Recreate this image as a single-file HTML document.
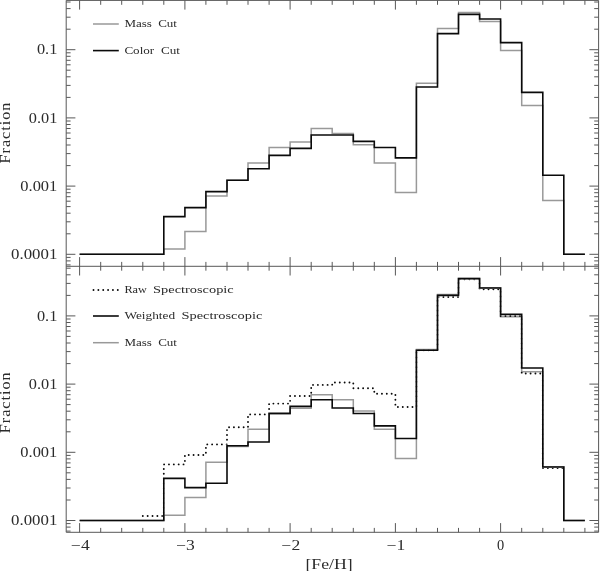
<!DOCTYPE html>
<html lang="en"><head><meta charset="utf-8"><title>Metallicity distribution</title>
<style>html,body{margin:0;padding:0;background:#fff}body{width:600px;height:571px;overflow:hidden}svg{display:block}text{font-family:"Liberation Serif","DejaVu Serif",serif;fill:#2b2b2b}</style></head><body>
<svg width="600" height="571" viewBox="0 0 600 571">
<rect width="600" height="571" fill="#fff"/>
<g fill="none" stroke="#585858" stroke-width="1">
<path d="M66.2 0.4H598.6V532.3H66.2Z M66.2 266.3H598.6"/>
<path d="M79.6 0.4v9.2M79.6 257.1v18.4M79.6 532.3v-9.2M100.7 0.4v4.4M100.7 261.9v8.8M100.7 532.3v-4.4M121.7 0.4v4.4M121.7 261.9v8.8M121.7 532.3v-4.4M142.8 0.4v4.4M142.8 261.9v8.8M142.8 532.3v-4.4M163.8 0.4v4.4M163.8 261.9v8.8M163.8 532.3v-4.4M184.9 0.4v9.2M184.9 257.1v18.4M184.9 532.3v-9.2M205.9 0.4v4.4M205.9 261.9v8.8M205.9 532.3v-4.4M227.0 0.4v4.4M227.0 261.9v8.8M227.0 532.3v-4.4M248.0 0.4v4.4M248.0 261.9v8.8M248.0 532.3v-4.4M269.1 0.4v4.4M269.1 261.9v8.8M269.1 532.3v-4.4M290.1 0.4v9.2M290.1 257.1v18.4M290.1 532.3v-9.2M311.2 0.4v4.4M311.2 261.9v8.8M311.2 532.3v-4.4M332.2 0.4v4.4M332.2 261.9v8.8M332.2 532.3v-4.4M353.3 0.4v4.4M353.3 261.9v8.8M353.3 532.3v-4.4M374.3 0.4v4.4M374.3 261.9v8.8M374.3 532.3v-4.4M395.4 0.4v9.2M395.4 257.1v18.4M395.4 532.3v-9.2M416.4 0.4v4.4M416.4 261.9v8.8M416.4 532.3v-4.4M437.5 0.4v4.4M437.5 261.9v8.8M437.5 532.3v-4.4M458.5 0.4v4.4M458.5 261.9v8.8M458.5 532.3v-4.4M479.6 0.4v4.4M479.6 261.9v8.8M479.6 532.3v-4.4M500.6 0.4v9.2M500.6 257.1v18.4M500.6 532.3v-9.2M521.7 0.4v4.4M521.7 261.9v8.8M521.7 532.3v-4.4M542.8 0.4v4.4M542.8 261.9v8.8M542.8 532.3v-4.4M563.8 0.4v4.4M563.8 261.9v8.8M563.8 532.3v-4.4M584.9 0.4v4.4M584.9 261.9v8.8M584.9 532.3v-4.4M66.2 264.9h4.4M598.6 264.9h-4.4M66.2 260.9h4.4M598.6 260.9h-4.4M66.2 257.4h4.4M598.6 257.4h-4.4M66.2 254.3h9.2M598.6 254.3h-9.2M66.2 233.8h4.4M598.6 233.8h-4.4M66.2 221.8h4.4M598.6 221.8h-4.4M66.2 213.2h4.4M598.6 213.2h-4.4M66.2 206.6h4.4M598.6 206.6h-4.4M66.2 201.2h4.4M598.6 201.2h-4.4M66.2 196.7h4.4M598.6 196.7h-4.4M66.2 192.7h4.4M598.6 192.7h-4.4M66.2 189.2h4.4M598.6 189.2h-4.4M66.2 186.1h9.2M598.6 186.1h-9.2M66.2 165.6h4.4M598.6 165.6h-4.4M66.2 153.6h4.4M598.6 153.6h-4.4M66.2 145.0h4.4M598.6 145.0h-4.4M66.2 138.4h4.4M598.6 138.4h-4.4M66.2 133.0h4.4M598.6 133.0h-4.4M66.2 128.5h4.4M598.6 128.5h-4.4M66.2 124.5h4.4M598.6 124.5h-4.4M66.2 121.0h4.4M598.6 121.0h-4.4M66.2 117.9h9.2M598.6 117.9h-9.2M66.2 97.4h4.4M598.6 97.4h-4.4M66.2 85.4h4.4M598.6 85.4h-4.4M66.2 76.8h4.4M598.6 76.8h-4.4M66.2 70.2h4.4M598.6 70.2h-4.4M66.2 64.8h4.4M598.6 64.8h-4.4M66.2 60.3h4.4M598.6 60.3h-4.4M66.2 56.3h4.4M598.6 56.3h-4.4M66.2 52.8h4.4M598.6 52.8h-4.4M66.2 49.7h9.2M598.6 49.7h-9.2M66.2 29.2h4.4M598.6 29.2h-4.4M66.2 17.2h4.4M598.6 17.2h-4.4M66.2 8.6h4.4M598.6 8.6h-4.4M66.2 2.0h4.4M598.6 2.0h-4.4M66.2 531.1h4.4M598.6 531.1h-4.4M66.2 527.1h4.4M598.6 527.1h-4.4M66.2 523.6h4.4M598.6 523.6h-4.4M66.2 520.5h9.2M598.6 520.5h-9.2M66.2 500.0h4.4M598.6 500.0h-4.4M66.2 488.0h4.4M598.6 488.0h-4.4M66.2 479.4h4.4M598.6 479.4h-4.4M66.2 472.8h4.4M598.6 472.8h-4.4M66.2 467.4h4.4M598.6 467.4h-4.4M66.2 462.9h4.4M598.6 462.9h-4.4M66.2 458.9h4.4M598.6 458.9h-4.4M66.2 455.4h4.4M598.6 455.4h-4.4M66.2 452.3h9.2M598.6 452.3h-9.2M66.2 431.8h4.4M598.6 431.8h-4.4M66.2 419.8h4.4M598.6 419.8h-4.4M66.2 411.2h4.4M598.6 411.2h-4.4M66.2 404.6h4.4M598.6 404.6h-4.4M66.2 399.2h4.4M598.6 399.2h-4.4M66.2 394.7h4.4M598.6 394.7h-4.4M66.2 390.7h4.4M598.6 390.7h-4.4M66.2 387.2h4.4M598.6 387.2h-4.4M66.2 384.1h9.2M598.6 384.1h-9.2M66.2 363.6h4.4M598.6 363.6h-4.4M66.2 351.6h4.4M598.6 351.6h-4.4M66.2 343.0h4.4M598.6 343.0h-4.4M66.2 336.4h4.4M598.6 336.4h-4.4M66.2 331.0h4.4M598.6 331.0h-4.4M66.2 326.5h4.4M598.6 326.5h-4.4M66.2 322.5h4.4M598.6 322.5h-4.4M66.2 319.0h4.4M598.6 319.0h-4.4M66.2 315.9h9.2M598.6 315.9h-9.2M66.2 295.4h4.4M598.6 295.4h-4.4M66.2 283.4h4.4M598.6 283.4h-4.4M66.2 274.8h4.4M598.6 274.8h-4.4M66.2 268.2h4.4M598.6 268.2h-4.4"/>
</g>
<g fill="none" stroke-linejoin="miter">
<path d="M79.6 254.3H100.7V254.3H121.7V254.3H142.8V254.3H163.8V249.0H184.9V231.4H205.9V196.0H227.0V180.2H248.0V163.0H269.1V147.6H290.1V142.0H311.2V128.6H332.2V133.6H353.3V144.8H374.3V163.0H395.4V192.4H416.4V83.3H437.5V28.4H458.5V12.4H479.6V21.6H500.6V50.5H521.7V105.6H542.8V200.6H563.8V254.3H584.9" stroke="#999" stroke-width="1.5"/>
<path d="M79.6 254.3H100.7V254.3H121.7V254.3H142.8V254.3H163.8V216.6H184.9V207.6H205.9V191.6H227.0V180.2H248.0V168.8H269.1V155.4H290.1V148.4H311.2V135.0H332.2V135.0H353.3V141.4H374.3V147.5H395.4V157.9H416.4V87.0H437.5V33.6H458.5V14.4H479.6V19.0H500.6V42.6H521.7V92.4H542.8V175.2H563.8V254.3H584.9" stroke="#0a0a0a" stroke-width="1.6"/>
<path d="M79.6 520.5H100.7V520.5H121.7V520.5H142.8V520.5H163.8V515.2H184.9V497.6H205.9V462.2H227.0V446.4H248.0V429.2H269.1V413.8H290.1V408.2H311.2V394.8H332.2V399.8H353.3V411.0H374.3V429.2H395.4V458.6H416.4V349.5H437.5V294.6H458.5V278.6H479.6V287.8H500.6V316.7H521.7V371.8H542.8V466.8H563.8V520.5H584.9" stroke="#999" stroke-width="1.5"/>
<mask id="hm" maskUnits="userSpaceOnUse" x="0" y="0" width="600" height="571"><rect width="600" height="571" fill="#fff"/><path d="M79.6 520.5H100.7V520.5H121.7V520.5H142.8V520.5H163.8V478.4H184.9V487.6H205.9V483.2H227.0V445.8H248.0V442.0H269.1V413.4H290.1V406.4H311.2V399.8H332.2V408.0H353.3V413.5H374.3V425.9H395.4V438.5H416.4V350.3H437.5V295.4H458.5V278.6H479.6V288.0H500.6V314.4H521.7V368.0H542.8V467.0H563.8V520.5H584.9" stroke="#000" stroke-width="1.9" fill="none"/></mask>
<path d="M142.8 516.0H163.8V464.4H184.9V455.0H205.9V444.4H227.0V427.3H248.0V414.4H269.1V403.6H290.1V396.0H311.2V384.9H332.2V382.5H353.3V388.3H374.3V393.8H395.4V407.0H416.4V350.3H437.5V297.0H458.5V279.2H479.6V289.2H500.6V316.0H521.7V373.5H542.8V468.0H563.8" stroke="#0a0a0a" stroke-width="1.9" stroke-linecap="round" stroke-dasharray="0.01 4.85" mask="url(#hm)"/>
<path d="M79.6 520.5H100.7V520.5H121.7V520.5H142.8V520.5H163.8V478.4H184.9V487.6H205.9V483.2H227.0V445.8H248.0V442.0H269.1V413.4H290.1V406.4H311.2V399.8H332.2V408.0H353.3V413.5H374.3V425.9H395.4V438.5H416.4V350.3H437.5V295.4H458.5V278.6H479.6V288.0H500.6V314.4H521.7V368.0H542.8V467.0H563.8V520.5H584.9" stroke="#0a0a0a" stroke-width="1.6"/>
<path d="M93 24H118.8" stroke="#999" stroke-width="1.5"/>
<path d="M93 50.6H118.8" stroke="#0a0a0a" stroke-width="1.6"/>
<path d="M93.5 290H118.5" stroke="#0a0a0a" stroke-width="1.9" stroke-linecap="round" stroke-dasharray="0.01 4.85"/>
<path d="M93 316H118.8" stroke="#0a0a0a" stroke-width="1.6"/>
<path d="M93 342.7H118.8" stroke="#999" stroke-width="1.5"/>
</g>
<text x="124.4" y="26.6" font-size="11" textLength="52.6" lengthAdjust="spacingAndGlyphs" word-spacing="2.6">Mass Cut</text>
<text x="124.4" y="53.6" font-size="11" textLength="55.6" lengthAdjust="spacingAndGlyphs" word-spacing="3">Color Cut</text>
<text y="292.7" font-size="11"><tspan x="124.4" textLength="22.5" lengthAdjust="spacingAndGlyphs">Raw</tspan> <tspan x="153.1" textLength="80.6" lengthAdjust="spacingAndGlyphs">Spectroscopic</tspan></text>
<text y="319.3" font-size="11"><tspan x="124.4" textLength="50.7" lengthAdjust="spacingAndGlyphs">Weighted</tspan> <tspan x="181.4" textLength="81.0" lengthAdjust="spacingAndGlyphs">Spectroscopic</tspan></text>
<text x="124.4" y="346.0" font-size="11" textLength="52.6" lengthAdjust="spacingAndGlyphs" word-spacing="2.6">Mass Cut</text>
<text x="36.9" y="54.4" font-size="14" textLength="20.4" lengthAdjust="spacingAndGlyphs">0.1</text>
<text x="28.8" y="122.7" font-size="14" textLength="28.5" lengthAdjust="spacingAndGlyphs">0.01</text>
<text x="20.3" y="190.9" font-size="14" textLength="37.0" lengthAdjust="spacingAndGlyphs">0.001</text>
<text x="11.0" y="259.1" font-size="14" textLength="46.3" lengthAdjust="spacingAndGlyphs">0.0001</text>
<text x="36.9" y="320.6" font-size="14" textLength="20.4" lengthAdjust="spacingAndGlyphs">0.1</text>
<text x="28.8" y="388.9" font-size="14" textLength="28.5" lengthAdjust="spacingAndGlyphs">0.01</text>
<text x="20.3" y="457.1" font-size="14" textLength="37.0" lengthAdjust="spacingAndGlyphs">0.001</text>
<text x="11.0" y="525.2" font-size="14" textLength="46.3" lengthAdjust="spacingAndGlyphs">0.0001</text>
<text x="71.0" y="549.7" font-size="14" textLength="18.7" lengthAdjust="spacingAndGlyphs">−4</text>
<text x="176.2" y="549.7" font-size="14" textLength="18.7" lengthAdjust="spacingAndGlyphs">−3</text>
<text x="281.5" y="549.7" font-size="14" textLength="18.7" lengthAdjust="spacingAndGlyphs">−2</text>
<text x="386.7" y="549.7" font-size="14" textLength="18.7" lengthAdjust="spacingAndGlyphs">−1</text>
<text x="497.1" y="549.7" font-size="14" textLength="7.2" lengthAdjust="spacingAndGlyphs">0</text>
<text x="305.4" y="568.6" font-size="15" textLength="47.2" lengthAdjust="spacingAndGlyphs">[Fe/H]</text>
<text transform="translate(10.0 163.4) rotate(-90)" font-size="14.5" letter-spacing="0.9" textLength="61.7" lengthAdjust="spacingAndGlyphs">Fraction</text>
<text transform="translate(10.0 433.2) rotate(-90)" font-size="14.5" letter-spacing="0.9" textLength="61.9" lengthAdjust="spacingAndGlyphs">Fraction</text>
</svg></body></html>
